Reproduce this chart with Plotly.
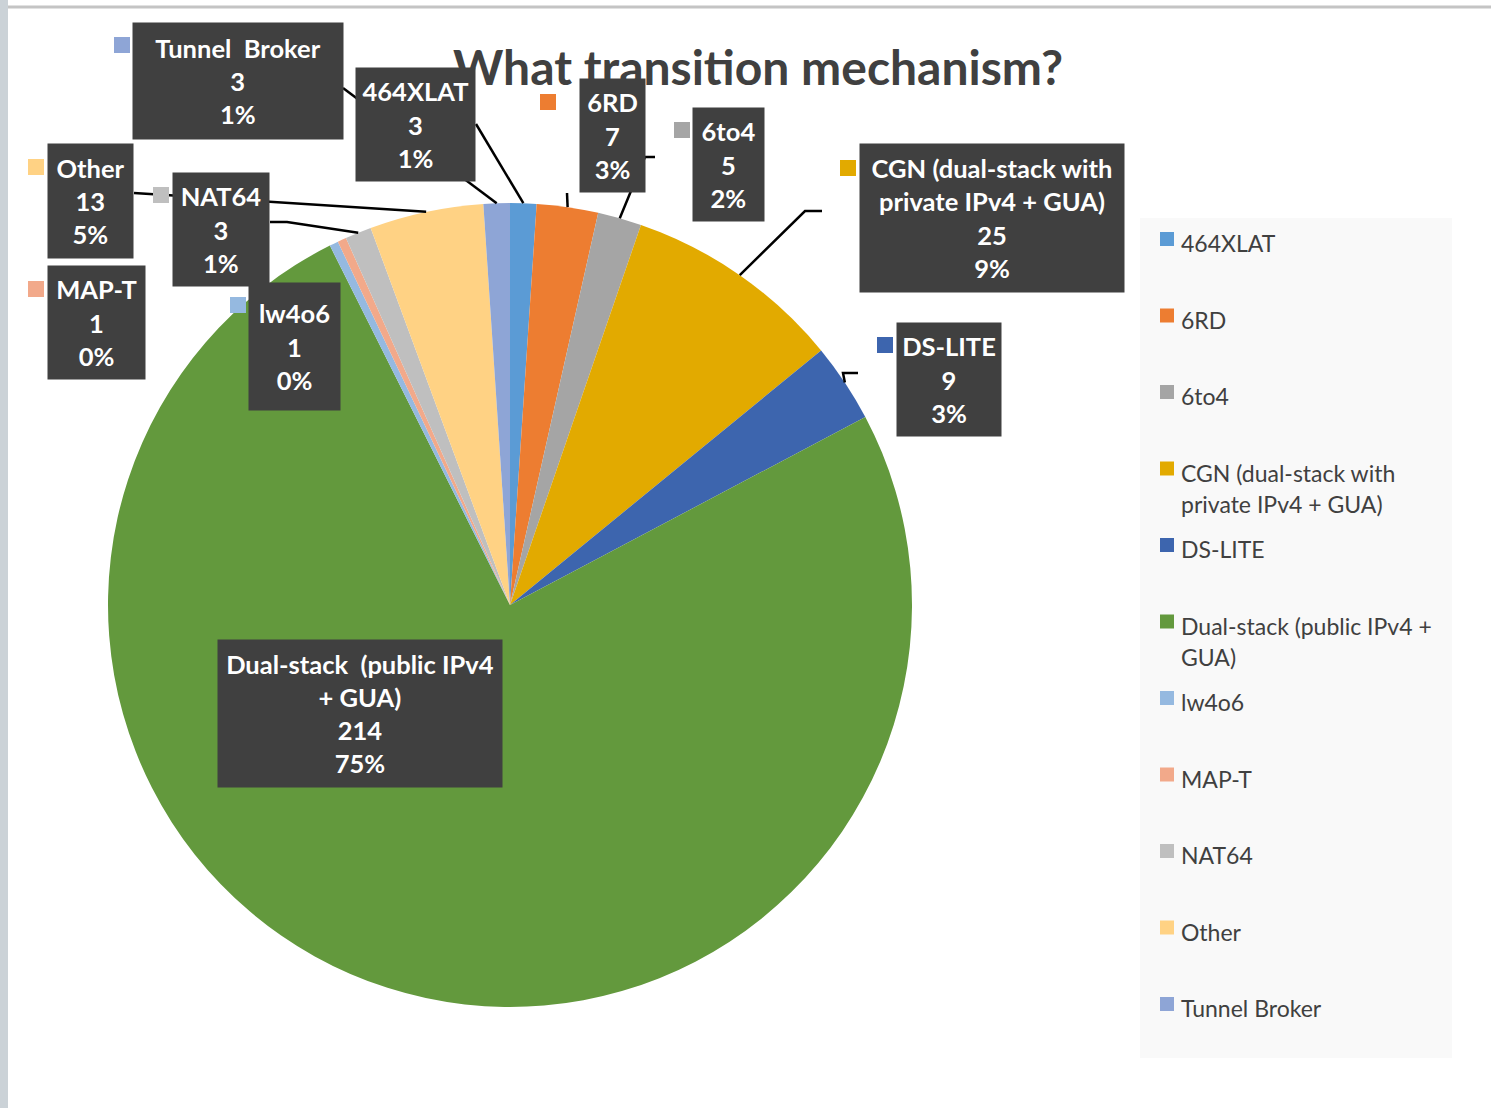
import math
import plotly.graph_objects as go

# ---------------- data ----------------
categories = [
    "464XLAT", "6RD", "6to4", "CGN (dual-stack with private IPv4 + GUA)", "DS-LITE",
    "Dual-stack (public IPv4 + GUA)", "lw4o6", "MAP-T", "NAT64", "Other", "Tunnel Broker",
]
counts = [3, 7, 5, 25, 9, 214, 1, 1, 3, 13, 3]
colors = [
    "#5B9BD5", "#ED7D31", "#A5A5A5", "#E2AA00", "#3D65AE",
    "#63993D", "#95B9E0", "#F2A98A", "#BFBFBF", "#FFD284", "#8EA5D6",
]
title_text = "What transition mechanism?"

# wrapped text (style only)
box_wrap = {
    "CGN (dual-stack with private IPv4 + GUA)": ["CGN (dual-stack with", "private IPv4 + GUA)"],
    "Dual-stack (public IPv4 + GUA)": ["Dual-stack&nbsp; (public IPv4", "+ GUA)"],
    "Tunnel Broker": ["Tunnel&nbsp; Broker"],
}
legend_wrap = {
    "CGN (dual-stack with private IPv4 + GUA)": ["CGN (dual-stack with", "private IPv4 + GUA)"],
    "Dual-stack (public IPv4 + GUA)": ["Dual-stack (public IPv4 +", "GUA)"],
}

# ---------------- layout constants (pixels) ----------------
W, H = 1491, 1108
CX, CY, R = 510, 605, 402  # pie centre / radius

# label boxes: (x0, y0, x1, y1), marker square top-left, leader polyline start points
label_layout = {
    "464XLAT": dict(box=(356, 68, 475, 181), marker=(320, 82), leader=[(476, 124)]),
    "6RD": dict(box=(580, 79, 645, 192), marker=(540, 94), leader=[(567, 193)]),
    "6to4": dict(box=(693, 108, 764, 221), marker=(674, 122), leader=[(655, 157), (645, 157)]),
    "CGN (dual-stack with private IPv4 + GUA)": dict(box=(860, 144, 1124, 292), marker=(840, 160),
                                                     leader=[(822, 211), (805, 211)]),
    "DS-LITE": dict(box=(897, 323, 1001, 436), marker=(877, 337), leader=[(858, 373), (843, 373)]),
    "Dual-stack (public IPv4 + GUA)": dict(box=(218, 640, 502, 787), marker=None, leader=None),
    "lw4o6": dict(box=(249, 283, 340, 410), marker=(230, 297), leader=None),
    "MAP-T": dict(box=(48, 266, 145, 379), marker=(28, 281), leader=None),
    "NAT64": dict(box=(173, 173, 269, 286), marker=(153, 187), leader=[(270, 222), (287, 222)]),
    "Other": dict(box=(48, 144, 133, 258), marker=(28, 159), leader=[(134, 193)]),
    "Tunnel Broker": dict(box=(133, 23, 343, 139), marker=(114, 37), leader=[(343, 88)]),
}

total = sum(counts)

# Excel-style percentages (largest remainder so they sum to 100)
raw = [c / total * 100 for c in counts]
floors = [math.floor(r) for r in raw]
rest = 100 - sum(floors)
order = sorted(range(len(raw)), key=lambda i: raw[i] - floors[i], reverse=True)
pcts = floors[:]
for i in order[:rest]:
    pcts[i] += 1

fig = go.Figure()
fig.add_trace(go.Pie(
    labels=categories, values=counts, sort=False, direction="clockwise", rotation=0,
    marker=dict(colors=colors, line=dict(width=0)),
    textinfo="none", hoverinfo="label+value+percent", showlegend=False,
    domain=dict(x=[(CX - R) / W, (CX + R) / W], y=[1 - (CY + R) / H, 1 - (CY - R) / H]),
))

shapes = []
annotations = []

# frame decoration
shapes.append(dict(type="rect", xref="x", yref="y", x0=0, x1=8, y0=0, y1=H,
                   fillcolor="#CBD2D7", line=dict(width=0), layer="below"))
shapes.append(dict(type="line", xref="x", yref="y", x0=8, x1=W, y0=7, y1=7,
                   line=dict(color="#C4C4C4", width=3)))

# title first so label boxes drawn later sit on top of it
annotations.append(dict(x=758, y=66, xref="x", yref="y", text=f"<b>{title_text}</b>", showarrow=False,
                        xanchor="center", yanchor="middle",
                        font=dict(family="Lato", size=48, color="#404040")))

# slice mid points on the rim
cum = 0
mid = {}
for name, v in zip(categories, counts):
    th = (cum + v / 2) / total * 2 * math.pi
    mid[name] = (CX + R * math.sin(th), CY - R * math.cos(th))
    cum += v

# leader lines
for name in categories:
    lay = label_layout[name]
    if lay["leader"]:
        pts = lay["leader"] + [mid[name]]
        path = "M " + " L ".join(f"{x},{y}" for x, y in pts)
        shapes.append(dict(type="path", xref="x", yref="y", path=path,
                           line=dict(color="black", width=2.5)))

# markers
for name, col in zip(categories, colors):
    m = label_layout[name]["marker"]
    if m:
        shapes.append(dict(type="rect", xref="x", yref="y", x0=m[0], y0=m[1], x1=m[0] + 16, y1=m[1] + 16,
                           fillcolor=col, line=dict(width=0)))

# label boxes (annotation with background so it covers title/lines)
val_of = dict(zip(categories, counts))
pct_of = dict(zip(categories, pcts))
for name in label_layout:
    x0, y0, x1, y1 = label_layout[name]["box"]
    lines = box_wrap.get(name, [name]) + [str(val_of[name]), f"{pct_of[name]}%"]
    text = "<br>".join(f"<b>{t}</b>" for t in lines)
    annotations.append(dict(x=(x0 + x1) / 2, y=(y0 + y1) / 2, xref="x", yref="y",
                            text=text, showarrow=False, xanchor="center", yanchor="middle",
                            width=x1 - x0, height=y1 - y0, borderpad=0, bgcolor="#404040",
                            align="center", valign="middle",
                            font=dict(family="Lato", size=25.5, color="white")))

# legend (manual)
shapes.append(dict(type="rect", xref="x", yref="y", x0=1140, y0=218, x1=1452, y1=1058,
                   fillcolor="#F9F9F9", line=dict(width=0), layer="below"))
for i, (name, col) in enumerate(zip(categories, colors)):
    yf = 243 + 76.5 * i
    shapes.append(dict(type="rect", xref="x", yref="y", x0=1160, x1=1174, y0=yf - 11, y1=yf + 3,
                       fillcolor=col, line=dict(width=0)))
    for k, t in enumerate(legend_wrap.get(name, [name])):
        annotations.append(dict(x=1179, y=yf + 31 * k, xref="x", yref="y", text=t, showarrow=False,
                                xanchor="left", yanchor="middle",
                                font=dict(family="Lato", size=23, color="#404040")))

fig.update_layout(
    width=W, height=H, margin=dict(l=0, r=0, t=0, b=0),
    paper_bgcolor="white", plot_bgcolor="rgba(0,0,0,0)",
    xaxis=dict(range=[0, W], visible=False, domain=[0, 1], fixedrange=True),
    yaxis=dict(range=[H, 0], visible=False, domain=[0, 1], fixedrange=True),
    shapes=shapes, annotations=annotations, showlegend=False,
)

fig.write_html("out.html", config={"displayModeBar": False},
               post_script="document.body.style.margin='0';")
